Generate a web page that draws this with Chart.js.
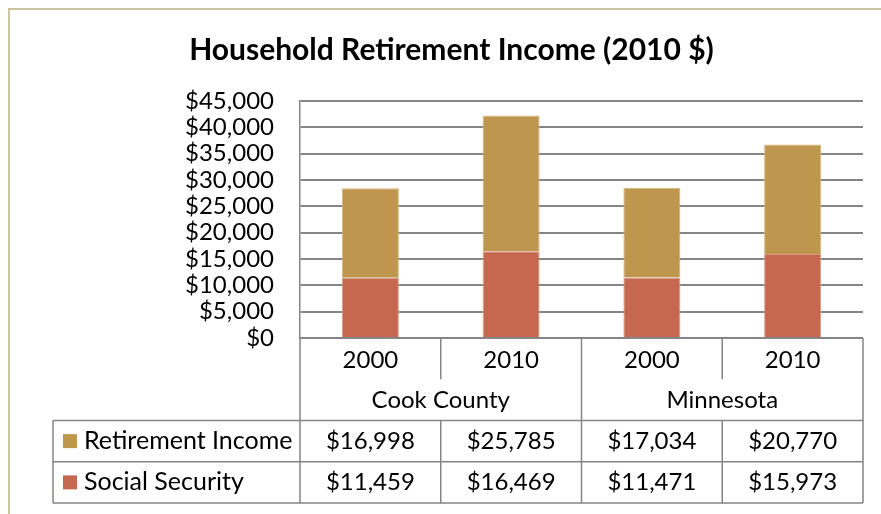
<!DOCTYPE html>
<html>
<head>
<meta charset="utf-8">
<script src="https://cdn.jsdelivr.net/npm/chart.js@4/dist/chart.umd.min.js"></script>
<style>
  html, body { margin: 0; padding: 0; background: #fff; }
  #wrap { position: relative; width: 881px; height: 514px; }
</style>
</head>
<body>
<div id="wrap"><canvas id="grafica_retiro"></canvas></div>
<script>
const years = ['2000', '2010', '2000', '2010'];
const regions = ['Cook County', 'Minnesota'];
const retirementIncome = [16998, 25785, 17034, 20770];
const socialSecurity = [11459, 16469, 11471, 15973];

const FONT = 'Lato, "Open Sans", sans-serif';
const GRID = '#858585';
const dollars = v => '$' + Number(v).toLocaleString('en-US');

// marco exterior y tabla de datos bajo el eje
const tablaDatos = {
  id: 'tablaDatos',
  beforeDraw(chart) {
    const c = chart.ctx;
    c.save();
    c.fillStyle = '#fff';
    c.fillRect(0, 0, chart.width, chart.height);
    c.strokeStyle = '#CBC49E';
    c.lineWidth = 2;
    c.beginPath();
    c.moveTo(9, chart.height);
    c.lineTo(9, 9);
    c.lineTo(chart.width, 9);
    c.stroke();
    c.restore();
  },
  afterDraw(chart) {
    const c = chart.ctx;
    const a = chart.chartArea;
    const x = chart.scales.x;
    const rowH = 41.25;
    const top = a.bottom;
    const yRow = k => top + k * rowH;
    const n = years.length;
    const edges = [a.left];
    for (let i = 0; i < n - 1; i++) edges.push((x.getPixelForValue(i) + x.getPixelForValue(i + 1)) / 2);
    edges.push(a.right);
    const legendLeft = 53;

    c.save();
    c.strokeStyle = GRID;
    c.lineWidth = 1.5;
    c.beginPath();
    // horizontales
    c.moveTo(a.left, top); c.lineTo(a.right, top);
    c.moveTo(legendLeft, yRow(2)); c.lineTo(a.right, yRow(2));
    c.moveTo(legendLeft, yRow(3)); c.lineTo(a.right, yRow(3));
    c.moveTo(legendLeft, yRow(4)); c.lineTo(a.right, yRow(4));
    // verticales
    c.moveTo(legendLeft, yRow(2)); c.lineTo(legendLeft, yRow(4));
    c.moveTo(a.left, top); c.lineTo(a.left, yRow(4));
    c.moveTo(a.right, top); c.lineTo(a.right, yRow(4));
    for (let i = 1; i < n; i++) {
      const groupEdge = i % 2 === 0;
      c.moveTo(edges[i], top);
      c.lineTo(edges[i], groupEdge ? yRow(4) : yRow(1));
      if (!groupEdge) { c.moveTo(edges[i], yRow(2)); c.lineTo(edges[i], yRow(4)); }
    }
    c.stroke();

    c.fillStyle = '#000';
    c.font = '24px ' + FONT;
    c.textAlign = 'center';
    c.textBaseline = 'middle';
    regions.forEach((r, g) => {
      c.fillText(r, (edges[g * 2] + edges[g * 2 + 2]) / 2, (yRow(1) + yRow(2)) / 2);
    });
    const rows = [
      { label: 'Retirement Income', values: retirementIncome, color: chart.data.datasets[1].backgroundColor },
      { label: 'Social Security', values: socialSecurity, color: chart.data.datasets[0].backgroundColor }
    ];
    rows.forEach((row, k) => {
      const cy = (yRow(2 + k) + yRow(3 + k)) / 2;
      c.font = '24px ' + FONT;
      row.values.forEach((v, i) => {
        c.textAlign = 'center';
        c.fillText(dollars(v), (edges[i] + edges[i + 1]) / 2, cy);
      });
      c.fillStyle = row.color;
      c.fillRect(63, cy - 7, 14, 14);
      c.fillStyle = '#000';
      c.textAlign = 'left';
      c.font = '25px ' + FONT;
      c.fillText(row.label, 84, cy);
    });
    c.restore();
  }
};

const ctx = document.getElementById('grafica_retiro').getContext('2d');
new Chart(ctx, {
  type: 'bar',
  data: {
    labels: years,
    datasets: [{
      label: 'Social Security',
      data: socialSecurity,
      backgroundColor: '#C66850',
      borderColor: '#DA9A86',
      borderWidth: 1
    }, {
      label: 'Retirement Income',
      data: retirementIncome,
      backgroundColor: '#BE964E',
      borderColor: '#D6B67E',
      borderWidth: 1
    }]
  },
  options: {
    responsive: true,
    maintainAspectRatio: false,
    animation: false,
    datasets: { bar: { categoryPercentage: 1, barPercentage: 0.405 } },
    layout: { padding: { left: 40, right: 18, top: 0, bottom: 134 } },
    plugins: {
      legend: { display: false },
      tooltip: { enabled: false },
      title: {
        display: true,
        text: 'Household Retirement Income (2010 $)',
        color: '#000',
        font: { family: FONT, size: 30, weight: 'bold', lineHeight: 1.2 },
        padding: { top: 32, bottom: 33 }
      }
    },
    scales: {
      x: {
        stacked: true,
        grid: { display: false },
        border: { display: false },
        ticks: { color: '#000', font: { family: FONT, size: 24 }, padding: 0, maxRotation: 0 },
        afterFit: s => { s.height = 42; }
      },
      y: {
        stacked: true,
        min: 0,
        max: 45000,
        grid: { color: GRID, lineWidth: 2, drawTicks: false },
        border: { display: true, color: GRID, width: 1.5 },
        ticks: { stepSize: 5000, autoSkip: false, color: '#000', font: { family: FONT, size: 24, lineHeight: 1 }, padding: 26, callback: dollars },
        afterFit: s => { s.width = 260; }
      }
    }
  },
  plugins: [tablaDatos]
});
</script>
</body>
</html>
